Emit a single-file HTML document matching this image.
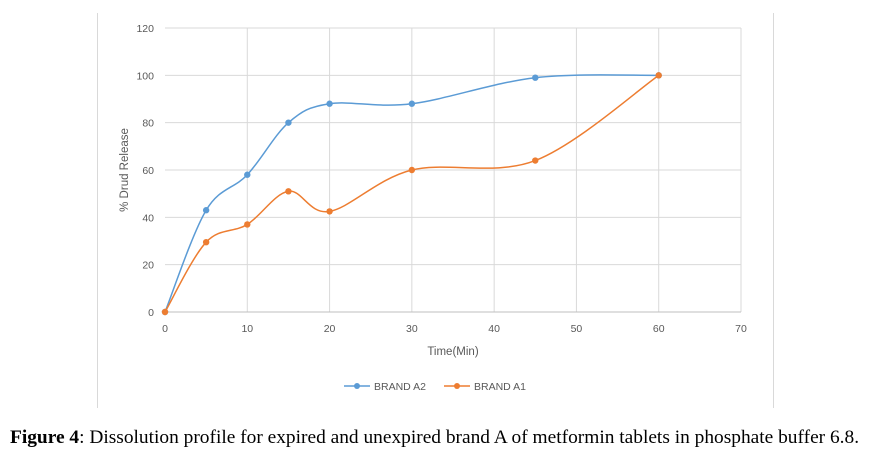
<!DOCTYPE html>
<html><head><meta charset="utf-8"><style>
body{margin:0;background:#fff;width:873px;height:466px;overflow:hidden}
svg{position:absolute;left:0;top:0}
.cap{position:absolute;left:10px;top:427px;font-family:"Liberation Serif",serif;font-size:19.4px;color:#000;white-space:nowrap}
</style></head><body>
<svg id="s" width="873" height="466" xmlns="http://www.w3.org/2000/svg" font-family="Liberation Sans, sans-serif">
<line x1="97.5" y1="13" x2="97.5" y2="408" stroke="#d9d9d9"/>
<line x1="773.5" y1="13" x2="773.5" y2="408" stroke="#d9d9d9"/>
<g id="grid" stroke="#d9d9d9" stroke-width="1"></g>
<g id="lab" fill="#595959" font-size="10.5"></g>
<text x="453" y="355" font-size="11.5" fill="#595959" text-anchor="middle">Time(Min)</text>
<text transform="translate(128,170) rotate(-90)" font-size="11.5" fill="#595959" text-anchor="middle">% Drud Release</text>
<g id="ser"></g>
<line x1="344" y1="386" x2="370" y2="386" stroke="#5b9bd5" stroke-width="1.5"/><circle cx="357" cy="386" r="3" fill="#5b9bd5"/>
<text x="374" y="390" font-size="10.5" fill="#595959">BRAND A2</text>
<line x1="444" y1="386" x2="470" y2="386" stroke="#ed7d31" stroke-width="1.5"/><circle cx="457" cy="386" r="3" fill="#ed7d31"/>
<text x="474" y="390" font-size="10.5" fill="#595959">BRAND A1</text>
</svg>
<div class="cap"><b>Figure 4</b>: Dissolution profile for expired and unexpired brand A of metformin tablets in phosphate buffer 6.8.</div>
<script>
var NS="http://www.w3.org/2000/svg";
function X(v){return 165+v*576/70}function Y(v){return 312-v*284/120}
function el(t,a,p){var e=document.createElementNS(NS,t);for(var k in a)e.setAttribute(k,a[k]);if(p)document.getElementById(p).appendChild(e);return e}
for(var i=0;i<=7;i++){var x=X(i*10);if(i>0)el("line",{x1:x,y1:Y(120),x2:x,y2:Y(0)},"grid");var t=el("text",{x:x,y:332,"text-anchor":"middle"},"lab");t.textContent=i*10;}
for(var j=0;j<=6;j++){var y=Y(j*20);el("line",{x1:X(0),y1:y,x2:X(70),y2:y,stroke:j==0?"#bfbfbf":"#d9d9d9"},"grid");var t=el("text",{x:154,y:y+4,"text-anchor":"end"},"lab");t.textContent=j*20;}
function series(d,c){var p=d.map(function(q){return[X(q[0]),Y(q[1])]});var s="M"+p[0][0]+","+p[0][1];
for(var i=0;i<p.length-1;i++){var p0=p[i-1]||p[i],p1=p[i],p2=p[i+1],p3=p[i+2]||p2;var k=1/6;
s+=" C"+(p1[0]+(p2[0]-p0[0])*k)+","+(p1[1]+(p2[1]-p0[1])*k)+" "+(p2[0]-(p3[0]-p1[0])*k)+","+(p2[1]-(p3[1]-p1[1])*k)+" "+p2[0]+","+p2[1];}
el("path",{d:s,fill:"none",stroke:c,"stroke-width":1.5},"ser");p.forEach(function(q){el("circle",{cx:q[0],cy:q[1],r:3.2,fill:c},"ser")});}
series([[0,0],[5,43],[10,58],[15,80],[20,88],[30,88],[45,99],[60,100]],"#5b9bd5");
series([[0,0],[5,29.5],[10,37],[15,51],[20,42.5],[30,60],[45,64],[60,100]],"#ed7d31");
</script>
</body></html>
